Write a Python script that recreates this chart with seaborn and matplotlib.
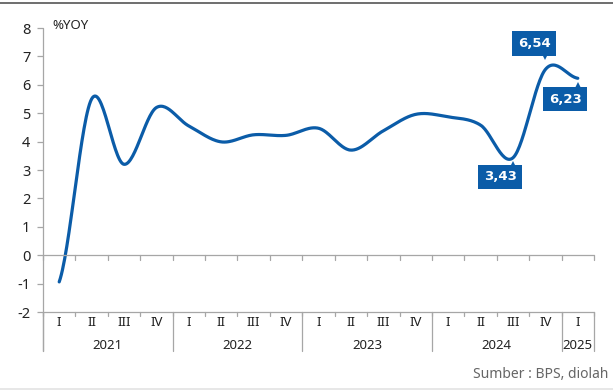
import numpy as np
import pandas as pd
import matplotlib
matplotlib.use("Agg")
import matplotlib.pyplot as plt
import matplotlib.transforms as mtransforms
from matplotlib.lines import Line2D
import seaborn as sns

# ---- data ----
years = ["2021", "2022", "2023", "2024", "2025"]
quarters_per_year = [4, 4, 4, 4, 1]
quarter_names = ["I", "II", "III", "IV"]
values = [-0.94, 5.50, 3.20, 5.20,
          4.55, 3.99, 4.24, 4.22,
          4.47, 3.70, 4.38, 4.96,
          4.87, 4.58, 3.43, 6.54,
          6.23]
callout_idx = [14, 15, 16]
callout_text = ["3,43", "6,54", "6,23"]
y_ticks = [-2, -1, 0, 1, 2, 3, 4, 5, 6, 7, 8]

BLUE = "#0b5ca8"
GRAY = "#a6a6a6"

sns.set_theme(style="white")
plt.rcParams["font.family"] = ["Noto Sans", "DejaVu Sans"]

fig = plt.figure(figsize=(6.13, 3.90), dpi=100)
ax = fig.add_axes([43 / 613, 1 - 312 / 390, 551 / 613, 284 / 390])

n = len(values)
x = np.arange(n, dtype=float)
y = np.array(values, dtype=float)

# smoothed (Catmull-Rom / Excel-like) rendering of the line
xs, ys = [], []
for i in range(n - 1):
    p0 = y[i - 1] if i > 0 else y[i]
    p1, p2 = y[i], y[i + 1]
    p3 = y[i + 2] if i + 2 < n else y[i + 1]
    b1 = p1 + (p2 - p0) / 6
    b2 = p2 - (p3 - p1) / 6
    t = np.linspace(0, 1, 30, endpoint=(i == n - 2))
    seg = (1 - t) ** 3 * p1 + 3 * (1 - t) ** 2 * t * b1 + 3 * (1 - t) * t ** 2 * b2 + t ** 3 * p2
    xs.extend(x[i] + t)
    ys.extend(seg)
df = pd.DataFrame({"x": xs, "y": ys})
sns.lineplot(data=df, x="x", y="y", ax=ax, color=BLUE, linewidth=2.3,
             estimator=None, sort=False)

ax.set_xlim(-0.5, n - 0.5)
ax.set_ylim(-2, 8)
for s in ax.spines.values():
    s.set_visible(False)
ax.set_xlabel("")
ax.set_ylabel("")
ax.set_xticks([])
ax.set_yticks(y_ticks)
ax.set_yticklabels([str(v) for v in y_ticks], fontsize=10.5, color="#222222")
ax.tick_params(axis="y", length=4, width=0.9, color=GRAY, pad=5, left=True)

lw = 0.9
ybot_line = -3.36
# y axis line
ax.plot([-0.5, -0.5], [8, ybot_line], color=GRAY, lw=lw, clip_on=False)
# zero line and bottom line
ax.plot([-0.5, n - 0.5], [0, 0], color=GRAY, lw=lw, clip_on=False)
ax.plot([-0.5, n - 0.5], [-2, -2], color=GRAY, lw=lw, clip_on=False)
# tick marks
for b in np.arange(-0.5, n, 1.0):
    ax.plot([b, b], [0, -0.17], color=GRAY, lw=lw, clip_on=False)
    ax.plot([b, b], [-2, -2.14], color=GRAY, lw=lw, clip_on=False)

# category labels
pos = 0
for yr, nq in zip(years, quarters_per_year):
    for q in range(nq):
        ax.text(pos + q, -2.36, quarter_names[q], ha="center", va="center",
                fontsize=9.5, color="#222222")
    ax.text(pos + (nq - 1) / 2, -3.17, yr, ha="center", va="center",
            fontsize=9.5, color="#222222")
    ax.plot([pos - 0.5, pos - 0.5], [-2, ybot_line], color=GRAY, lw=lw, clip_on=False)
    pos += nq
ax.plot([pos - 0.5, pos - 0.5], [-2, ybot_line], color=GRAY, lw=lw, clip_on=False)

ax.text(9 / 551, 8.1, "%YOY", fontsize=9.5, color="#222222", ha="left", va="center",
        transform=mtransforms.blended_transform_factory(ax.transAxes, ax.transData))

# callouts
offsets = {14: (-12.5, -19, "up"), 15: (-11, 26, "down"), 16: (-12.5, -21, "up")}
for idx, txt in zip(callout_idx, callout_text):
    dx, dy, d = offsets[idx]
    ax.annotate(txt, xy=(x[idx], y[idx]), xytext=(dx * 0.72, dy * 0.72),
                textcoords="offset points", ha="center", va="center",
                fontsize=9.5, color="white", fontweight="bold",
                family=["Liberation Sans Narrow", "DejaVu Sans"],
                bbox=dict(boxstyle="square,pad=0.42", fc=BLUE, ec="none"))
    if d == "up":
        tr = mtransforms.offset_copy(ax.transData, fig=fig, x=0, y=-6.5 * 0.72, units="points")
        ax.plot([x[idx]], [y[idx]], marker="^", ms=5, color=BLUE, transform=tr,
                clip_on=False, mew=0)
    else:
        tr = mtransforms.offset_copy(ax.transData, fig=fig, x=0, y=12.5 * 0.72, units="points")
        ax.plot([x[idx]], [y[idx]], marker="v", ms=5, color=BLUE, transform=tr,
                clip_on=False, mew=0)

# frame lines & source
fig.add_artist(Line2D([0, 1], [1 - 3 / 390] * 2, color="#555555", lw=1.2))
fig.add_artist(Line2D([0, 1], [1 - 389 / 390] * 2, color="#e3e3e3", lw=1.2))
fig.text(608 / 613, 1 - 375 / 390, "Sumber : BPS, diolah", ha="right", va="center",
         fontsize=10, color="#666666")

fig.savefig("out.png", dpi=100)
